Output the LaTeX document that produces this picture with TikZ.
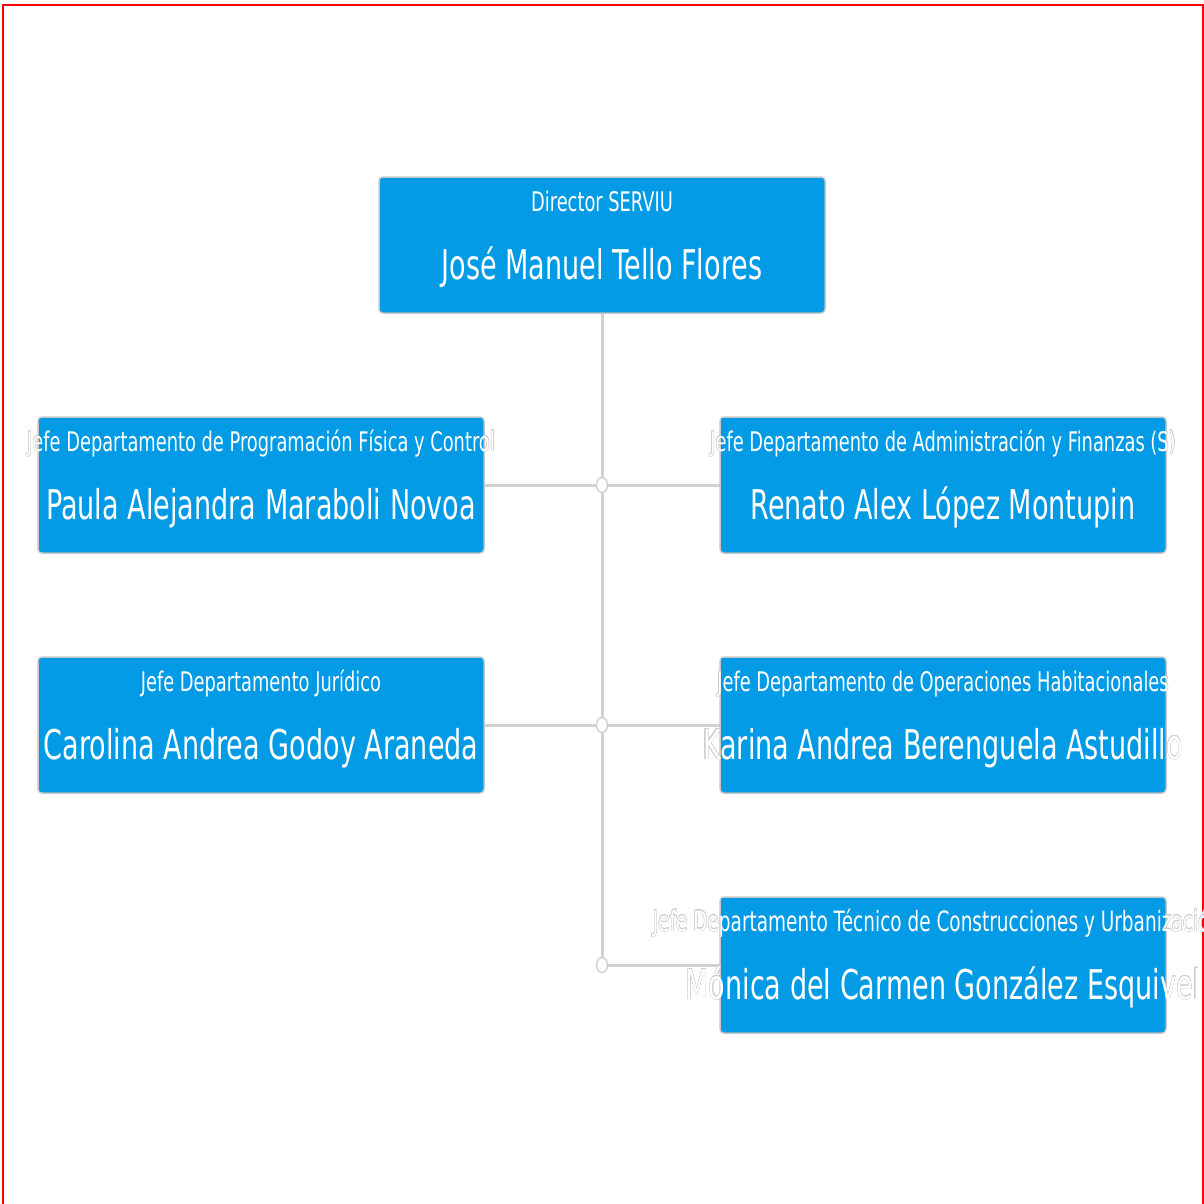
\documentclass[tikz,border=0pt]{standalone}
\usepackage{fontspec}
\setmainfont{DejaVu Sans}[FakeStretch=0.66]
\usepackage{contour}
\contourlength{0.4pt}
\contournumber{16}
\usetikzlibrary{shapes.geometric,backgrounds}
\definecolor{boxblue}{HTML}{039BE5}
\definecolor{boxline}{HTML}{C6C6C6}
\definecolor{linkgray}{HTML}{D2D2D2}
\newcommand{\puestos}{%
	director/0/27/Director SERVIU/José Manuel Tello Flores,
	programacion/0/27/Jefe Departamento de Programación Física y Control/Paula Alejandra Maraboli Novoa,
	administracion/0/27/Jefe Departamento de Administración y Finanzas (S)/Renato Alex López Montupin,
	juridico/0/27/Jefe Departamento Jurídico/Carolina Andrea Godoy Araneda,
	operaciones/0/27/Jefe Departamento de Operaciones Habitacionales/Karina Andrea Berenguela Astudillo,
	tecnico/-6/28/Jefe Departamento Técnico de Construcciones y Urbanización/Mónica del Carmen González Esquivel}
\begin{document}
\begin{tikzpicture}[x=1pt,y=-1pt,
	puesto/.style={draw=boxline, line width=1.5pt, fill=boxblue, rounded corners=4pt,
		minimum width=446pt, minimum height=136pt, inner sep=0pt, outer sep=0pt},
	enlace/.style={draw=linkgray, line width=3pt},
	nudo/.style={ellipse, draw=linkgray, line width=1.5pt, fill=white,
		minimum width=11pt, minimum height=15pt, inner sep=0pt},
	texto/.style={anchor=base, text=white, inner sep=0pt}]
				\useasboundingbox (0,0) rectangle (1204,1204);
				\draw[red, line width=2pt] (2.5,1204) -- (2.5,5) -- (1203,5) -- (1203,1204);
				% cajas
				\node[puesto] (director) at (602,245) {};
				\node[puesto] (programacion) at (261,485) {};
				\node[puesto] (administracion) at (943,485) {};
				\node[puesto] (juridico) at (261,725) {};
				\node[puesto] (operaciones) at (943,725) {};
				\node[puesto] (tecnico) at (943,965) {};
				% enlaces
				\coordinate (j1) at (602,485);
				\coordinate (j2) at (602,725);
				\coordinate (j3) at (602,965);
				\begin{scope}[on background layer]
					\draw[enlace] (director.south) -- (j3);
					\draw[enlace] (programacion.east) -- (j1) -- (administracion.west);
					\draw[enlace] (juridico.east) -- (j2) -- (operaciones.west);
					\draw[enlace] (j3) -- (tecnico.west);
					\node[nudo] (n1) at (j1) {};
					\node[nudo] (n2) at (j2) {};
					\node[nudo] (n3) at (j3) {};
				\end{scope}
				% textos (con borde gris fuera de las cajas)
				\foreach \caja/\dx/\tam/\cargo/\persona in \puestos {
					\node[texto] (\caja-c) at ([xshift=\dx pt,yshift=-34pt]\caja.north) {\fontsize{\tam}{30}\selectfont\contour{gray!40}{\cargo}};
					\node[texto] (\caja-p) at ([yshift=-102pt]\caja.north) {\fontsize{41}{46}\selectfont\contour{gray!40}{\persona}};
				}
				% dentro de las cajas, texto blanco limpio
				\begin{scope}
					\clip[rounded corners=3pt] foreach \caja in {director,programacion,administracion,juridico,operaciones,tecnico}
						{([xshift=1pt,yshift=1pt]\caja.south west) rectangle ([xshift=-1pt,yshift=-1pt]\caja.north east)};
					\fill[boxblue] (0,0) rectangle (1204,1204);
					\foreach \caja/\dx/\tam/\cargo/\persona in \puestos {
						\node[texto] (\caja-ci) at ([xshift=\dx pt,yshift=-34pt]\caja.north) {\fontsize{\tam}{30}\selectfont\cargo};
						\node[texto] (\caja-pi) at ([yshift=-102pt]\caja.north) {\fontsize{41}{46}\selectfont\persona};
					}
				\end{scope}
\end{tikzpicture}
\end{document}
